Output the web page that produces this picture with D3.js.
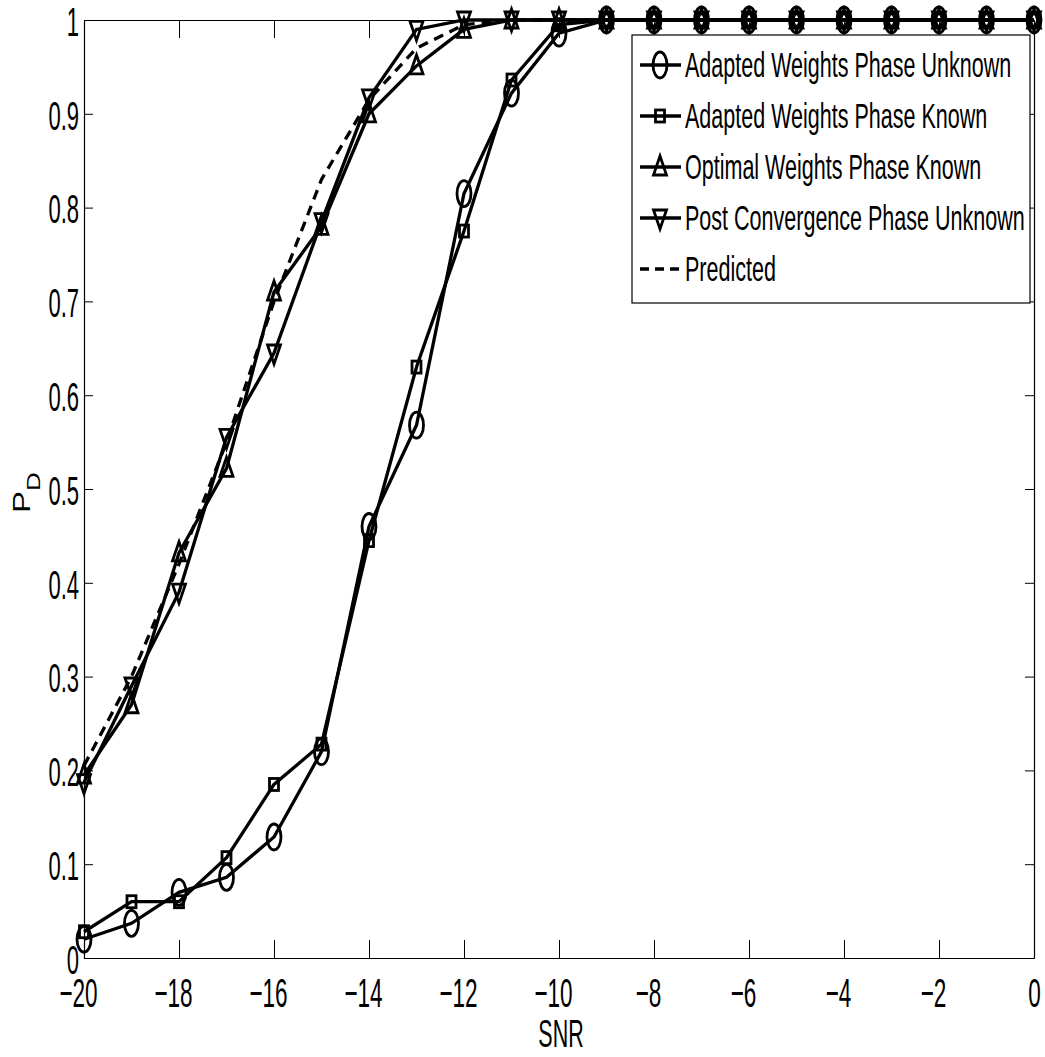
<!DOCTYPE html>
<html>
<head>
<meta charset="utf-8">
<script src="https://cdn.jsdelivr.net/npm/d3@7"></script>
<style>
  body { margin: 0; background: #fff; }
  svg { display: block; }
  text { font-family: "Liberation Sans", Arial, sans-serif; fill: #000; }
</style>
</head>
<body>
<div id="chart"></div>
<script>
/**
 * DATA
 * */
const snr = [-20, -19, -18, -17, -16, -15, -14, -13, -12, -11, -10, -9, -8, -7, -6, -5, -4, -3, -2, -1, 0];
const adaptedUnknown = [0.02, 0.037, 0.07, 0.086, 0.129, 0.22, 0.46, 0.568, 0.815, 0.922, 0.986, 1, 1, 1, 1, 1, 1, 1, 1, 1, 1];
const adaptedKnown = [0.028, 0.06, 0.06, 0.107, 0.185, 0.228, 0.445, 0.63, 0.775, 0.936, 0.995, 1, 1, 1, 1, 1, 1, 1, 1, 1, 1];
const optimalKnown = [0.195, 0.27, 0.432, 0.522, 0.71, 0.78, 0.9, 0.951, 0.99, 1, 1, 1, 1, 1, 1, 1, 1, 1, 1, 1, 1];
const postConvergence = [0.187, 0.29, 0.39, 0.555, 0.645, 0.785, 0.917, 0.99, 1, 1, 1, 1, 1, 1, 1, 1, 1, 1, 1, 1, 1];
const predicted = [0.205, 0.3, 0.42, 0.55, 0.7, 0.83, 0.915, 0.97, 0.995, 1, 1, 1, 1, 1, 1, 1, 1, 1, 1, 1, 1];
const xTicks = [-20, -18, -16, -14, -12, -10, -8, -6, -4, -2, 0];
const yTicks = [0, 0.1, 0.2, 0.3, 0.4, 0.5, 0.6, 0.7, 0.8, 0.9, 1];

const series = [
  { name: "Adapted Weights Phase Unknown", values: adaptedUnknown, marker: "circle" },
  { name: "Adapted Weights Phase Known", values: adaptedKnown, marker: "square" },
  { name: "Optimal Weights Phase Known", values: optimalKnown, marker: "up" },
  { name: "Post Convergence Phase Unknown", values: postConvergence, marker: "down" },
  { name: "Predicted", values: predicted, marker: null, dashed: true }
];

/**
 * CONSTANTS
 * */
const width = 1045, height = 1057,
  margin = { top: 20, right: 11, bottom: 99, left: 84 },
  k = 0.55; // horizontal squeeze of the text, like the stretched original

const svg = d3.select("#chart").append("svg")
  .attr("width", width)
  .attr("height", height);

const x = d3.scaleLinear()
  .domain([-20, 0])
  .range([margin.left, width - margin.right]);
const y = d3.scaleLinear()
  .domain([0, 1])
  .range([height - margin.bottom, margin.top]);

// axes: matlab style box with ticks inside on all sides
const xAxis = g => g
  .attr("transform", `translate(0,${y(0)})`)
  .call(d3.axisBottom(x).tickValues(xTicks).tickSize(-18).tickSizeOuter(0)
    .tickFormat(d => d < 0 ? "\u2212" + Math.abs(d) : d))
  .call(g => g.selectAll("text")
    .attr("y", 49).attr("dy", 0)
    .attr("x", d => d < 0 ? -6 / k : 0)
    .attr("transform", `scale(${k},1)`)
    .style("font-size", "41px"));

const yAxis = g => g
  .attr("transform", `translate(${x(-20)},0)`)
  .call(d3.axisLeft(y).tickValues(yTicks).tickSize(-9).tickSizeOuter(0)
    .tickFormat(d => d3.format("")(+d.toFixed(1))))
  .call(g => g.selectAll("text")
    .attr("x", -5 / k).attr("dy", "0.38em")
    .attr("transform", `scale(${k},1)`)
    .style("font-size", "40px"));

svg.append("g").call(xAxis);
svg.append("g").call(yAxis);
svg.append("g")
  .attr("transform", `translate(0,${y(1)})`)
  .call(d3.axisTop(x).tickValues(xTicks).tickSize(-18).tickSizeOuter(0).tickFormat(""));
svg.append("g")
  .attr("transform", `translate(${x(0)},0)`)
  .call(d3.axisRight(y).tickValues(yTicks).tickSize(-9).tickSizeOuter(0).tickFormat(""));
svg.selectAll(".domain").attr("stroke", "#000").attr("stroke-width", 1.2);
svg.selectAll(".tick line").attr("stroke", "#000");

// axis labels
svg.append("text")
  .attr("transform", `translate(561,1047) scale(${k},1)`)
  .attr("text-anchor", "middle")
  .style("font-size", "39px")
  .text("SNR");

const yl = svg.append("text")
  .attr("transform", "translate(30,513) rotate(-90) scale(1.37,1)")
  .attr("text-anchor", "start")
  .style("font-size", "24px");
yl.append("tspan").text("P");
yl.append("tspan").attr("dy", 10).style("font-size", "19px").text("D");

// markers
function drawMarker(g, type, cx, cy) {
  if (type === "circle") {
    g.append("ellipse").attr("cx", cx).attr("cy", cy).attr("rx", 7).attr("ry", 13)
      .attr("fill", "none").attr("stroke", "#000").attr("stroke-width", 2.8);
  } else if (type === "square") {
    g.append("rect").attr("x", cx - 4.5).attr("y", cy - 6).attr("width", 9).attr("height", 12)
      .attr("fill", "none").attr("stroke", "#000").attr("stroke-width", 2.8);
  } else if (type === "up") {
    g.append("path").attr("d", `M${cx},${cy - 11}L${cx + 6.5},${cy + 8}L${cx - 6.5},${cy + 8}Z`)
      .attr("fill", "none").attr("stroke", "#000").attr("stroke-width", 2.8);
  } else if (type === "down") {
    g.append("path").attr("d", `M${cx},${cy + 11}L${cx + 6.5},${cy - 8}L${cx - 6.5},${cy - 8}Z`)
      .attr("fill", "none").attr("stroke", "#000").attr("stroke-width", 2.8);
  }
}

const line = d3.line()
  .x((d, i) => x(snr[i]))
  .y(d => y(d));

series.forEach(s => {
  const g = svg.append("g");
  g.append("path")
    .datum(s.values)
    .attr("d", line)
    .attr("fill", "none")
    .attr("stroke", "#000")
    .attr("stroke-width", 3.3)
    .attr("stroke-dasharray", s.dashed ? "10,7" : null);
  if (s.marker) {
    s.values.forEach((v, i) => drawMarker(g, s.marker, x(snr[i]), y(v)));
  }
});

// legend
const legend = svg.append("g");
legend.append("rect")
  .attr("x", 632).attr("y", 35)
  .attr("width", 398).attr("height", 268)
  .attr("fill", "#fff").attr("stroke", "#000").attr("stroke-width", 1.2);

series.forEach((s, i) => {
  const cy = 65 + i * 51;
  legend.append("line")
    .attr("x1", 640).attr("x2", 681)
    .attr("y1", cy).attr("y2", cy)
    .attr("stroke", "#000").attr("stroke-width", 3.5)
    .attr("stroke-dasharray", s.dashed ? "9,6" : null);
  if (s.marker) drawMarker(legend, s.marker, 660, cy);
  legend.append("text")
    .attr("transform", `translate(685,${cy + 12}) scale(0.615,1)`)
    .style("font-size", "35px")
    .text(s.name);
});
</script>
</body>
</html>
